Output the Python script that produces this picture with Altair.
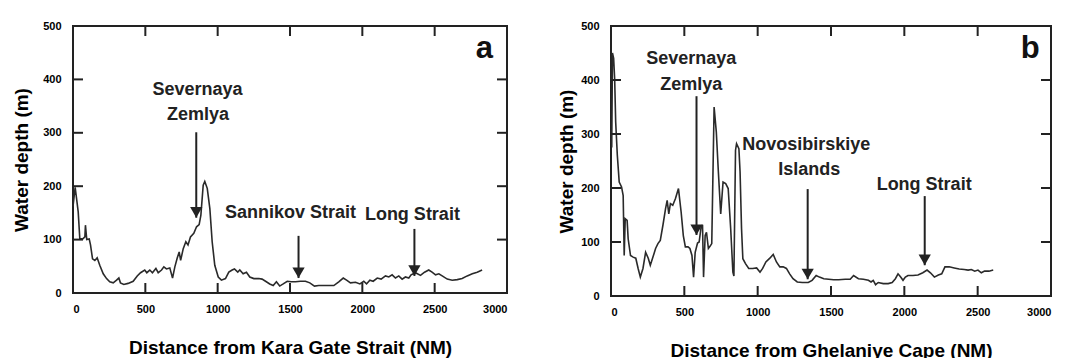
import altair as alt
import pandas as pd

# ---- Depth profile along the route from Kara Gate Strait (panel a) ----
DIST_A = [0, 15, 36, 47, 66, 82, 86, 95, 112, 121, 135, 151, 167, 185, 209, 232, 254, 278,
          301, 317, 328, 351, 381, 416, 444, 467, 496, 510, 531, 549, 573, 589, 612, 628,
          646, 669, 688, 704, 720, 734, 744, 762, 780, 795, 812, 835, 854, 872, 884, 900,
          911, 928, 946, 962, 980, 1004, 1026, 1054, 1077, 1100, 1116, 1139, 1153, 1176,
          1199, 1222, 1250, 1284, 1307, 1331, 1360, 1384, 1406, 1429, 1453, 1481, 1508,
          1538, 1572, 1607, 1637, 1669, 1699, 1734, 1768, 1803, 1837, 1868, 1891, 1918,
          1953, 1983, 2010, 2029, 2052, 2075, 2103, 2130, 2160, 2183, 2206, 2229, 2252,
          2275, 2298, 2321, 2337, 2367, 2402, 2430, 2459, 2482, 2506, 2529, 2552, 2587,
          2621, 2656, 2690, 2725, 2760, 2794, 2828]
DEPTH_A = [162, 198, 152, 102, 101, 105, 127, 100, 101, 90, 64, 61, 66, 52, 36, 27, 21, 19,
           24, 28, 19, 16, 18, 22, 32, 38, 43, 38, 43, 38, 46, 38, 43, 49,
           45, 47, 28, 49, 65, 77, 61, 83, 96, 90, 105, 112, 124, 128, 146, 202,
           209, 196, 158, 96, 52, 30, 24, 27, 39, 43, 45, 39, 43, 36,
           39, 30, 27, 27, 26, 22, 17, 14, 21, 13, 17, 22, 21,
           21, 22, 22, 19, 13, 14, 14, 14, 14, 21, 28, 24, 19,
           20, 17, 22, 17, 24, 22, 28, 26, 32, 30, 34, 28, 32,
           26, 30, 28, 34, 38, 33, 39, 43, 39, 34, 36, 32, 26,
           24, 25, 27, 32, 36, 39, 43]

# ---- Depth profile along the route from Ghelaniye Cape (panel b) ----
DIST_B = [5, 10, 18, 25, 32, 43, 56, 72, 83, 90, 97, 110, 117, 133, 151, 169, 185, 200,
          218, 236, 254, 268, 286, 304, 320, 336, 354, 372, 383, 394, 405, 421, 439, 460,
          478, 493, 507, 525, 538, 552, 563, 574, 590, 601, 613, 624, 631, 642, 651, 664,
          675, 687, 703, 718, 732, 748, 764, 782, 799, 816, 831, 838, 849, 856, 872, 880,
          890, 899, 917, 939, 966, 993, 1016, 1034, 1056, 1083, 1106, 1128, 1151, 1174,
          1196, 1218, 1241, 1270, 1304, 1345, 1371, 1399, 1421, 1451, 1484, 1518, 1552,
          1597, 1631, 1654, 1687, 1721, 1755, 1773, 1788, 1804, 1822, 1856, 1890, 1917,
          1939, 1957, 1975, 1991, 2007, 2025, 2059, 2093, 2126, 2155, 2178, 2205, 2232,
          2255, 2277, 2306, 2340, 2374, 2408, 2435, 2457, 2480, 2502, 2525, 2547, 2577,
          2606]
DEPTH_B = [275, 450, 440, 402, 322, 261, 211, 202, 186, 75, 143, 140, 106, 75, 72, 70, 51, 35,
           51, 81, 70, 57, 72, 88, 97, 103, 131, 162, 177, 152, 171, 168, 180, 199,
           156, 112, 91, 91, 88, 75, 35, 81, 98, 100, 125, 132, 35, 112, 118, 88,
           92, 97, 350, 304, 230, 152, 211, 208, 199, 125, 44, 37, 270, 282, 273, 230,
           125, 69, 60, 51, 51, 52, 44, 51, 63, 70, 77, 63, 54, 54,
           51, 41, 32, 26, 25, 25, 29, 38, 35, 32, 31, 30, 30,
           31, 31, 38, 32, 31, 29, 26, 29, 21, 25, 23, 23, 25,
           32, 41, 35, 29, 35, 38, 38, 39, 43, 48, 43, 35, 39,
           41, 54, 54, 52, 50, 49, 48, 49, 46, 48, 43, 46, 46,
           48]

# ---- Axes ----
X_DOMAIN = [0, 3000]
Y_DOMAIN = [0, 500]
X_TICKS = [0, 500, 1000, 1500, 2000, 2500, 3000]
Y_TICKS = [0, 100, 200, 300, 400, 500]
INNER_X_TICKS = [500, 1000, 1500, 2000, 2500]
INNER_Y_TICKS = [100, 200, 300, 400]

# ---- Place-name annotations (text, distance, depth) ----
LABEL_TEXT_A = ["Severnaya", "Zemlya", "Sannikov Strait", "Long Strait"]
LABEL_DIST_A = [861, 864, 1503, 2346]
LABEL_DEPTH_A = [380, 333, 149, 147]

LABEL_TEXT_B = ["Severnaya", "Zemlya", "Novosibirskiye", "Islands", "Long Strait"]
LABEL_DIST_B = [547, 547, 1331, 1351, 2135]
LABEL_DEPTH_B = [439, 391, 280, 233, 206]

# ---- Arrows: distance, depth at arrow tail, depth at arrow tip ----
ARROW_DIST_A = [852, 1559, 2360]
ARROW_TAIL_A = [301, 107, 120]
ARROW_TIP_A = [141, 28, 32]

ARROW_DIST_B = [583, 1341, 2139]
ARROW_TAIL_B = [370, 198, 185]
ARROW_TIP_B = [113, 31, 57]

INK = "#222222"
FONT = "Liberation Sans"
TICK_PX = 10  # length of the inward-pointing ticks


def panel(dist, depth, lab_text, lab_dist, lab_depth, arr_dist, arr_tail, arr_tip,
          letter, letter_dist, x_title, width, height, y_title_pad):
    axis_style = dict(format="d", domain=False, ticks=False, grid=False,
                      labelFont=FONT, labelFontWeight="bold", labelFontSize=11,
                      titleFont=FONT, titleFontSize=19)
    x_enc = alt.X(
        "dist:Q",
        scale=alt.Scale(domain=X_DOMAIN, nice=False, zero=False),
        axis=alt.Axis(values=X_TICKS, title=x_title, labelPadding=10, titlePadding=24,
                      **axis_style),
    )
    y_enc = alt.Y(
        "depth:Q",
        scale=alt.Scale(domain=Y_DOMAIN, nice=False),
        axis=alt.Axis(values=Y_TICKS, title="Water depth (m)", labelPadding=12,
                      titlePadding=y_title_pad, **axis_style),
    )

    dy = (Y_DOMAIN[1] - Y_DOMAIN[0]) * TICK_PX / height
    dx = (X_DOMAIN[1] - X_DOMAIN[0]) * TICK_PX / width

    profile = pd.DataFrame({"dist": dist, "depth": depth})
    line = alt.Chart(profile).mark_line(color="#2a2a2a", strokeWidth=1.6).encode(x=x_enc, y=y_enc)

    n = len(INNER_X_TICKS)
    m = len(INNER_Y_TICKS)
    bottom = alt.Chart(pd.DataFrame({"dist": INNER_X_TICKS, "depth": [Y_DOMAIN[0]] * n,
                                     "tip": [Y_DOMAIN[0] + dy] * n})).mark_rule(
        color=INK, strokeWidth=2).encode(x=x_enc, y=y_enc, y2="tip:Q")
    top = alt.Chart(pd.DataFrame({"dist": INNER_X_TICKS, "depth": [Y_DOMAIN[1]] * n,
                                  "tip": [Y_DOMAIN[1] - dy] * n})).mark_rule(
        color=INK, strokeWidth=2).encode(x=x_enc, y=y_enc, y2="tip:Q")
    left = alt.Chart(pd.DataFrame({"depth": INNER_Y_TICKS, "dist": [X_DOMAIN[0]] * m,
                                   "tip": [X_DOMAIN[0] + dx] * m})).mark_rule(
        color=INK, strokeWidth=2).encode(x=x_enc, x2="tip:Q", y=y_enc)
    right = alt.Chart(pd.DataFrame({"depth": INNER_Y_TICKS, "dist": [X_DOMAIN[1]] * m,
                                    "tip": [X_DOMAIN[1] - dx] * m})).mark_rule(
        color=INK, strokeWidth=2).encode(x=x_enc, x2="tip:Q", y=y_enc)

    arrows = pd.DataFrame({"dist": arr_dist, "depth": arr_tail, "tip": arr_tip})
    shafts = alt.Chart(arrows).mark_rule(color=INK, strokeWidth=2).encode(
        x=x_enc, y=y_enc, y2="tip:Q")
    heads_df = pd.DataFrame({"dist": arr_dist, "depth": arr_tip})
    heads = alt.Chart(heads_df).mark_point(
        shape="triangle-down", filled=True, size=150, color=INK, opacity=1, yOffset=-5.3
    ).encode(x=x_enc, y=y_enc)

    labels_df = pd.DataFrame({"dist": lab_dist, "depth": lab_depth, "text": lab_text})
    labels = alt.Chart(labels_df).mark_text(
        font=FONT, fontWeight="bold", fontSize=18, color=INK, align="center", baseline="middle"
    ).encode(x=x_enc, y=y_enc, text="text:N")

    letter_df = pd.DataFrame({"dist": [letter_dist], "depth": [457], "text": [letter]})
    letter_mark = alt.Chart(letter_df).mark_text(
        font=FONT, fontWeight="bold", fontSize=31, color="#111111", align="center", baseline="middle"
    ).encode(x=x_enc, y=y_enc, text="text:N")

    return alt.layer(
        line, bottom, top, left, right, shafts, heads, labels, letter_mark
    ).properties(width=width, height=height)


panel_a = panel(DIST_A, DEPTH_A, LABEL_TEXT_A, LABEL_DIST_A, LABEL_DEPTH_A,
                ARROW_DIST_A, ARROW_TAIL_A, ARROW_TIP_A, "a", 2844,
                "Distance from Kara Gate Strait (NM)", 434, 267, 11)
panel_b = panel(DIST_B, DEPTH_B, LABEL_TEXT_B, LABEL_DIST_B, LABEL_DEPTH_B,
                ARROW_DIST_B, ARROW_TAIL_B, ARROW_TIP_B, "b", 2858,
                "Distance from Ghelaniye Cape (NM)", 440, 270, 4)

chart = alt.hconcat(panel_a, panel_b, spacing=47).properties(
    padding={"left": 11, "top": 19, "right": 0, "bottom": 0},
).configure_view(
    stroke=INK, strokeWidth=2,
)

chart.save("out.html", embed_options={"renderer": "svg", "actions": False})
